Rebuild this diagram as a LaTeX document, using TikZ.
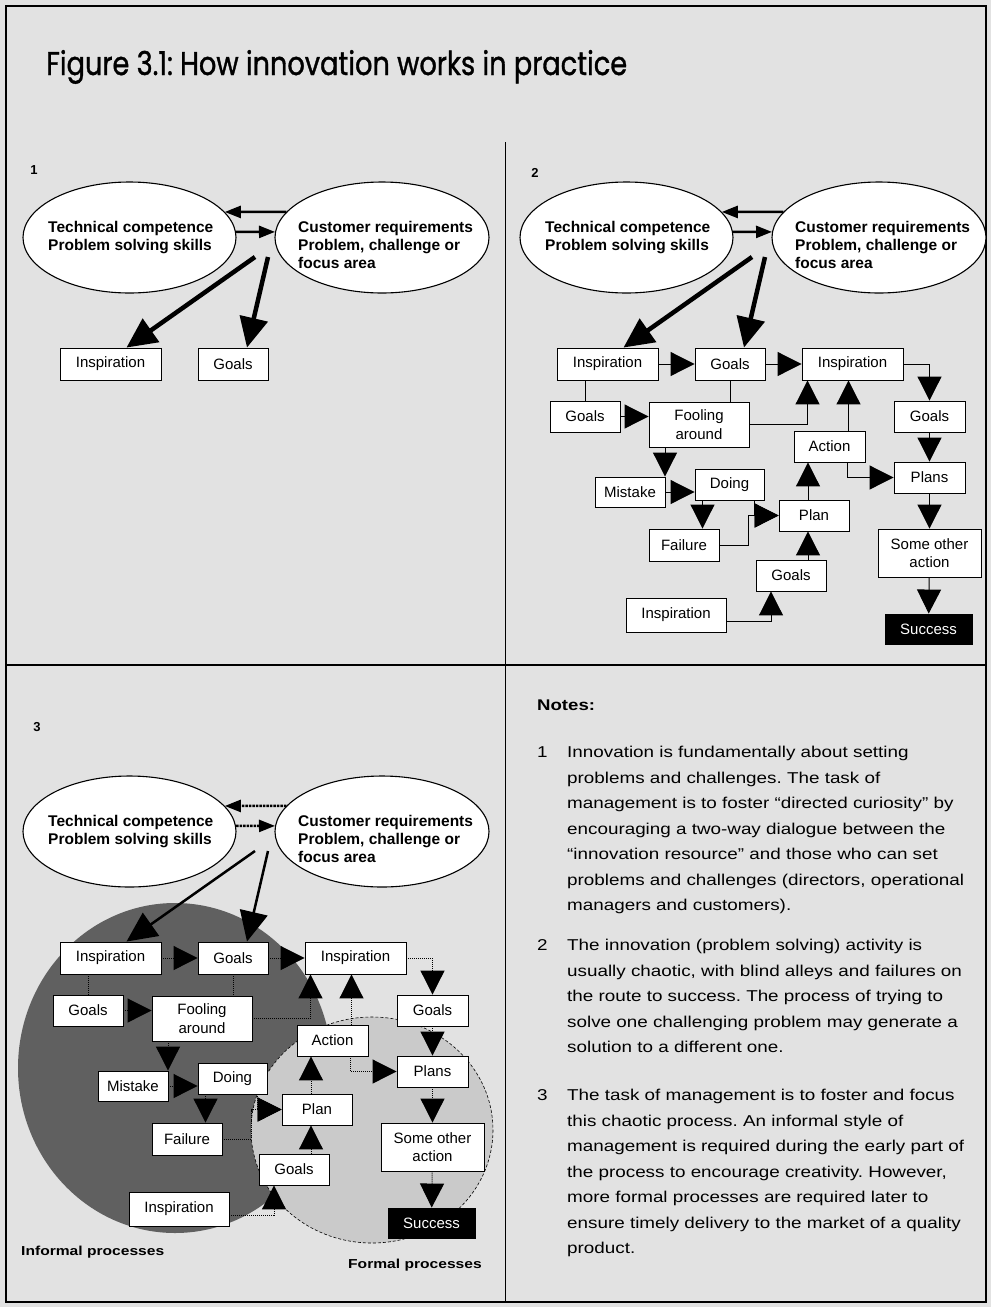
\documentclass[tikz,border=0pt]{standalone}
\usepackage{fontspec}
\usepackage{graphicx}
\setmainfont{Liberation Sans}
\newfontfamily\titlefont[FakeBold=1.2]{Poppins}
\newfontfamily\widefont[FakeStretch=1.2]{Liberation Sans}
\usetikzlibrary{arrows.meta,shapes.geometric}
\definecolor{paper}{RGB}{226,226,226}
\definecolor{informal}{RGB}{96,96,96}
\definecolor{formal}{RGB}{202,202,202}

\tikzset{
  box/.style={draw=black, line width=0.9pt, fill=white, inner sep=0pt, align=center,
    font=\fontsize{15}{18.5}\selectfont},
  oval/.style={ellipse, draw=black, line width=1.1pt, fill=white, inner sep=0pt},
  ovaltext/.style={align=left, inner sep=0pt, font=\fontsize{15.5}{18}\selectfont\bfseries},
  link/.style={line width=1pt, -{Triangle[length=24pt,width=24pt]}},
  joinline/.style={line width=1pt},
  feed/.style={line width=4.5pt, -{Triangle[length=30pt,width=28pt]}},
  swap/.style={line width=2.5pt, -{Triangle[length=16pt,width=12pt]}},
  panelno/.style={inner sep=0pt, font=\fontsize{13}{15}\selectfont\bfseries},
  areatag/.style={inner sep=0pt, anchor=base west, font=\widefont\fontsize{13}{15}\selectfont\bfseries},
  notetext/.style={inner sep=0pt, anchor=north west, align=left,
    font=\widefont\fontsize{15.7}{25.5}\selectfont},
}

% the two ellipses, their exchange arrows and the first two outcomes
\newcommand{\topdiagram}{%
  \node[oval, minimum width=213pt, minimum height=111pt] (tc) at (626.5,237.5) {};
  \node[oval, minimum width=214pt, minimum height=111pt] (cr) at (879,237.5) {};
  \node[ovaltext, anchor=north west] (tct) at (545,221) {Technical competence\\Problem solving skills};
  \node[ovaltext, anchor=north west] (crt) at (795,221) {Customer requirements\\Problem, challenge or\\focus area};
  \draw[swap] (cr.165) -- (tc.15);
  \draw[swap] (tc.3) -- (cr.177);
  \node[box, minimum width=101pt, minimum height=32pt] (ia) at (607.5,364) {Inspiration};
  \node[box, minimum width=70pt, minimum height=32pt] (ga) at (730,364) {Goals};
  \coordinate (fa1) at (752,257);
  \coordinate (fa2) at (765,257);
  \draw[feed] (fa1) -- ([xshift=16pt]ia.north);
  \draw[feed] (fa2) -- ([xshift=14pt]ga.north);
}

% the chaotic path from the first outcomes to success
\newcommand{\restdiagram}{%
  \node[box, minimum width=101pt, minimum height=32pt] (ib) at (852.5,364) {Inspiration};
  \node[box, minimum width=70pt, minimum height=31pt] (gb) at (585,416.5) {Goals};
  \node[box, minimum width=100pt, minimum height=45pt] (fo) at (699,424.5) {Fooling\\around};
  \node[box, minimum width=71pt, minimum height=31pt] (gc) at (929.5,416.5) {Goals};
  \node[box, minimum width=71pt, minimum height=31pt] (ac) at (829.5,446.5) {Action};
  \node[box, minimum width=70pt, minimum height=30pt] (mi) at (630,492) {Mistake};
  \node[box, minimum width=69pt, minimum height=31pt] (do) at (729.5,484.5) {Doing};
  \node[box, minimum width=71pt, minimum height=31pt] (pls) at (929.5,477.5) {Plans};
  \node[box, minimum width=70pt, minimum height=31pt] (pl) at (814,515.5) {Plan};
  \node[box, minimum width=70pt, minimum height=32pt] (fa) at (684,545) {Failure};
  \node[box, minimum width=103pt, minimum height=48pt] (so) at (929.5,553) {Some other\\action};
  \node[box, minimum width=70pt, minimum height=31pt] (gd) at (791,575.5) {Goals};
  \node[box, minimum width=100pt, minimum height=34pt] (ic) at (676,615) {Inspiration};
  \node[box, fill=black, text=white, minimum width=87pt, minimum height=30pt] (su) at (928.5,629) {Success};
  \draw[link] (ia) -- (ga);
  \draw[link] (ga) -- (ib);
  \draw[link] (ib.east) -| (gc.north);
  \draw[joinline] (gb.north) -- (gb.north |- ia.south);
  \draw[joinline] (ga.south) -- (ga.south |- fo.north);
  \draw[link] (gb.east) -- (gb.east -| fo.west);
  \draw[link] (fo.east) -| ([xshift=-45pt]ib.south);
  \draw[link] ([xshift=19pt]ac.north) -- ([xshift=19pt]ac.north |- ib.south);
  \draw[link] (gc) -- (pls);
  \draw[link] ([xshift=18pt]ac.south) |- (pls.west);
  \draw[link] ([xshift=-34pt]fo.south) -- ([xshift=-34pt]fo.south |- mi.north);
  \draw[link] (mi.east) -- (mi.east -| do.west);
  \draw[link] ([xshift=-27pt]do.south) -- ([xshift=-27pt]do.south |- fa.north);
  \draw[link] ([xshift=25pt]do.south) |- (pl.west);
  \draw[link] (fa.east) -| ([xshift=-30pt]pl.west) -- (pl.west);
  \draw[link] ([xshift=17pt]gd.north) -- ([xshift=17pt]gd.north |- pl.south);
  \draw[link] ([xshift=-6pt]pl.north) -- ([xshift=-6pt]pl.north |- ac.south);
  \draw[link] ([yshift=-6pt]ic.east) -| ([xshift=-20pt]gd.south);
  \draw[link] (pls) -- (so);
  \draw[link] (so) -- (su);
}

\begin{document}
\frenchspacing
\begin{tikzpicture}[x=1pt,y=-1pt]
\useasboundingbox (0,0) rectangle (991,1307);
\fill[paper] (0,0) rectangle (991,1307);

% frame and quadrant rules
\draw[line width=1.2pt] (6,6) rectangle (986,1302);
\draw[line width=1.6pt] (6,665) -- (986,665);
\draw[line width=0.8pt] (505,142) -- (505,1302);

% title
\node[anchor=base west, inner sep=0pt] (title) at (46,75)
  {\resizebox{581pt}{25pt}{\titlefont Figure 3.1: How innovation works in practice}};

% panel numbers
\node[panelno] (n1) at (34,170) {1};
\node[panelno] (n2) at (535,173) {2};
\node[panelno] (n3) at (37,727) {3};

% panel 1
\begin{scope}[shift={(-497,0)}, name prefix=p1-]
  \topdiagram
\end{scope}

% panel 2
\begin{scope}[name prefix=p2-]
  \topdiagram
  \restdiagram
\end{scope}

% panel 3: informal and formal process areas behind the same flow
\fill[informal] (175,1068) ellipse [x radius=157, y radius=165];
\filldraw[fill=formal, draw=black, line width=0.6pt, densely dashed] (372,1130) ellipse [x radius=121, y radius=113];
\begin{scope}[shift={(-497,594)}, name prefix=p3-,
    link/.append style={densely dotted},
    joinline/.append style={densely dotted},
    swap/.append style={densely dotted},
    feed/.append style={line width=2.5pt}]
  \topdiagram
  \restdiagram
\end{scope}
\node[areatag] (informaltag) at (21,1255) {Informal processes};
\node[areatag] (formaltag) at (348,1268) {Formal processes};

% notes
\node[anchor=base west, inner sep=0pt, font=\widefont\fontsize{15.5}{18}\selectfont\bfseries] (notes) at (537,710) {Notes:};
\node[notetext] (k1) at (537,746) {1};
\node[notetext] (t1) at (567,746) {Innovation is fundamentally about setting\\
problems and challenges. The task of\\
management is to foster “directed curiosity” by\\
encouraging a two-way dialogue between the\\
“innovation resource” and those who can set\\
problems and challenges (directors, operational\\
managers and customers).};
\node[notetext] (k2) at (537,939) {2};
\node[notetext] (t2) at (567,939) {The innovation (problem solving) activity is\\
usually chaotic, with blind alleys and failures on\\
the route to success. The process of trying to\\
solve one challenging problem may generate a\\
solution to a different one.};
\node[notetext] (k3) at (537,1089) {3};
\node[notetext] (t3) at (567,1089) {The task of management is to foster and focus\\
this chaotic process. An informal style of\\
management is required during the early part of\\
the process to encourage creativity. However,\\
more formal processes are required later to\\
ensure timely delivery to the market of a quality\\
product.};
\end{tikzpicture}
\end{document}
